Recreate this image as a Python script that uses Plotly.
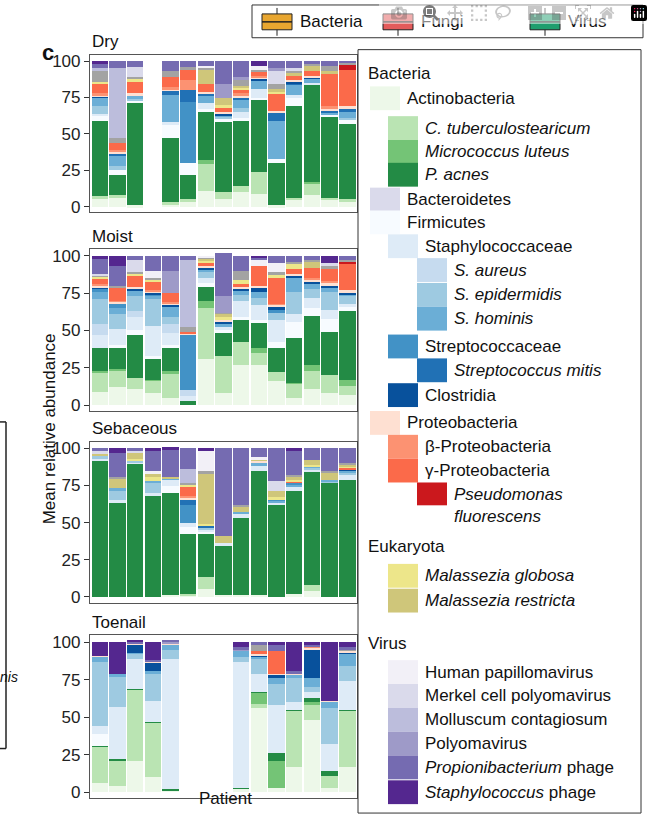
import plotly.graph_objects as go

W, H = 653, 825
patients = list(range(1, 16))

taxa = ["act","ctub","mlut","pacnes","bact","firm","staph","saur","sepi","shom","strep","smit","clost",
        "proteo","beta","gamma","pseudo","mglob","mrestr","grey","hpv","merkel","mollus","polyoma","propph","staphph"]
colors = {"act":"#edf8e9","ctub":"#bae4b3","mlut":"#74c476","pacnes":"#238b45","bact":"#dadaeb","firm":"#f7fbff",
          "staph":"#deebf7","saur":"#c6dbef","sepi":"#9ecae1","shom":"#6baed6","strep":"#4292c6","smit":"#2171b5",
          "clost":"#08519c","proteo":"#fee0d2","beta":"#fc9272","gamma":"#fb6a4a","pseudo":"#cb181d",
          "mglob":"#ede68a","mrestr":"#cfc67a","grey":"#a3a3a3","hpv":"#f2f0f7","merkel":"#dadaeb",
          "mollus":"#bcbddc","polyoma":"#9e9ac8","propph":"#756bb1","staphph":"#54278f"}

dry = [
 dict(act=6,ctub=1,pacnes=52,firm=3,staph=2,sepi=5,shom=6,clost=1,proteo=1,gamma=7,beta=1,mglob=1,grey=7,mollus=2,propph=3,staphph=2),
 dict(act=6,ctub=2,pacnes=14,firm=3,sepi=3,shom=7,smit=2,proteo=1,gamma=5,beta=1,grey=3,mollus=48,propph=5),
 dict(act=1,pacnes=70,firm=2,sepi=1,shom=3,proteo=1,gamma=8,mglob=2,grey=1,merkel=7,propph=4),
 None,
 dict(act=2,ctub=1,pacnes=44,firm=9,staph=2,shom=19,smit=3,proteo=1,gamma=7,beta=1,grey=4,propph=7),
 dict(act=4,ctub=1,pacnes=17,firm=8,strep=42,smit=8,beta=7,gamma=7,grey=2,propph=4),
 dict(act=11,ctub=18,mlut=3,pacnes=33,firm=2,staph=4,shom=5,smit=2,proteo=1,gamma=5,mrestr=10,grey=2,propph=3,hpv=1),
 dict(act=5,ctub=5,pacnes=48,firm=2,sepi=2,shom=1,clost=1,proteo=1,gamma=3,mglob=2,mrestr=5,polyoma=9,propph=16),
 dict(act=10,ctub=4,pacnes=45,firm=2,staph=4,sepi=3,shom=6,smit=1,proteo=1,gamma=3,beta=2,mglob=1,mrestr=1,grey=4,polyoma=2,propph=11),
 dict(act=9,ctub=15,pacnes=49,firm=2,staph=6,shom=6,clost=1,proteo=1,gamma=3,beta=1,grey=1,hpv=3,staphph=3),
 dict(act=1,pacnes=29,firm=3,shom=26,smit=6,proteo=1,gamma=12,mglob=1,mrestr=2,grey=3,merkel=10,polyoma=1,propph=5),
 dict(act=5,ctub=1,pacnes=63,firm=6,staph=2,shom=7,smit=1,clost=1,proteo=1,gamma=3,mrestr=2,grey=2,merkel=1,propph=5),
 dict(act=8,ctub=8,mlut=1,pacnes=67,staph=1,shom=3,clost=1,proteo=1,gamma=3,mrestr=4,grey=1,propph=2),
 dict(act=5,ctub=1,pacnes=56,firm=1,shom=2,smit=1,proteo=2,gamma=22,beta=1,mrestr=2,grey=4,propph=3),
 dict(act=4,ctub=1,pacnes=52,firm=3,sepi=1,shom=5,smit=1,proteo=2,gamma=25,pseudo=4,grey=1,propph=1),
]
moist = [
 dict(act=9,ctub=13,mlut=1,pacnes=15,staph=9,saur=7,sepi=17,shom=5,strep=2,clost=1,proteo=1,gamma=4,beta=1,mglob=1,grey=1,merkel=1,propph=10,staphph=2),
 dict(act=12,ctub=11,mlut=1,pacnes=14,firm=2,staph=11,sepi=10,shom=4,strep=3,proteo=1,gamma=9,beta=1,grey=1,propph=13,staphph=7),
 dict(act=11,ctub=7,pacnes=29,firm=3,staph=9,saur=4,sepi=10,shom=4,clost=1,proteo=1,gamma=8,mglob=1,grey=1,merkel=8,propph=3),
 dict(act=8,ctub=8,mlut=1,pacnes=14,firm=2,staph=20,sepi=18,shom=2,strep=1,clost=1,proteo=1,gamma=6,beta=1,mglob=1,grey=1,hpv=5,propph=10),
 dict(act=5,ctub=16,mlut=2,pacnes=15,firm=2,staph=8,saur=6,sepi=5,shom=7,clost=1,proteo=1,gamma=6,beta=1,polyoma=15,propph=10),
 dict(pacnes=3,staph=3,saur=4,strep=37,proteo=1,gamma=1,grey=3,mollus=45,propph=3),
 dict(act=31,ctub=34,mlut=5,pacnes=9,firm=3,staph=3,sepi=4,shom=2,clost=1,proteo=1,gamma=2,mglob=2,mrestr=1,grey=1,hpv=1),
 dict(act=8,ctub=25,pacnes=15,firm=2,staph=2,shom=2,clost=2,proteo=1,mglob=2,mrestr=2,grey=1,polyoma=11,propph=29),
 dict(act=27,ctub=15,pacnes=15,firm=2,staph=11,sepi=4,shom=3,clost=1,proteo=1,gamma=2,mglob=3,grey=6,propph=10),
 dict(act=27,ctub=8,mlut=3,pacnes=17,firm=2,staph=10,sepi=5,shom=4,clost=3,proteo=1,gamma=13,hpv=4,propph=2,staphph=1),
 dict(act=16,ctub=6,pacnes=16,firm=4,staph=15,sepi=5,strep=2,clost=2,proteo=1,gamma=17,beta=1,mglob=2,grey=2,hpv=6,propph=5),
 dict(act=5,ctub=9,mlut=1,pacnes=30,firm=11,staph=5,sepi=15,shom=9,clost=2,proteo=1,gamma=3,mglob=4,grey=1,propph=4),
 dict(act=11,ctub=12,mlut=4,pacnes=33,firm=5,staph=7,sepi=6,shom=3,clost=2,proteo=1,gamma=7,beta=1,mrestr=4,grey=1,propph=3),
 dict(act=8,ctub=12,pacnes=29,firm=9,staph=6,sepi=12,shom=3,clost=1,proteo=2,gamma=8,beta=1,grey=2,merkel=2,staphph=5),
 dict(act=7,ctub=6,mlut=4,pacnes=46,firm=3,staph=2,sepi=5,shom=1,clost=1,proteo=2,gamma=18,pseudo=1,grey=1,propph=3),
]
sebaceous = [
 dict(pacnes=92,staph=1,sepi=2,mrestr=2,merkel=1,propph=2),
 dict(pacnes=63,staph=2,sepi=7,shom=1,mrestr=7,grey=1,propph=16,staphph=3),
 dict(pacnes=90,staph=1,sepi=1,mglob=1,mrestr=4,merkel=2,propph=1),
 dict(pacnes=68,staph=2,sepi=7,shom=1,mrestr=2,mglob=3,hpv=2,propph=14,staphph=1),
 dict(act=1,pacnes=69,firm=5,staph=4,shom=1,mrestr=1,propph=18,staphph=2),
 dict(act=1,ctub=1,pacnes=40,firm=5,staph=3,strep=12,smit=4,proteo=1,gamma=6,beta=1,mglob=2,grey=1,mollus=9,propph=14),
 dict(act=5,ctub=8,pacnes=29,firm=2,staph=1,sepi=2,smit=1,mglob=1,mrestr=34,grey=2,hpv=14,staphph=1),
 dict(act=1,pacnes=34,staph=1,mrestr=5,propph=59),
 dict(act=1,pacnes=52,staph=3,shom=1,mrestr=4,grey=1,propph=38),
 dict(act=1,pacnes=84,staph=3,shom=3,proteo=1,mrestr=1,hpv=1,propph=6),
 dict(pacnes=62,staph=2,shom=1,strep=1,mglob=1,mrestr=4,merkel=7,propph=22),
 dict(act=2,pacnes=69,staph=3,shom=2,strep=1,gamma=1,mglob=1,mrestr=2,grey=1,propph=16,staphph=2),
 dict(act=4,ctub=4,pacnes=76,staph=2,sepi=1,shom=1,mglob=1,mrestr=3,propph=8),
 dict(pacnes=77,sepi=1,shom=1,mrestr=5,grey=1,propph=15),
 dict(pacnes=79,staph=3,sepi=2,shom=1,clost=1,gamma=1,mglob=1,mrestr=1,grey=1,propph=10),
]
toenail = [
 dict(act=6,ctub=24,pacnes=1,firm=8,staph=5,sepi=43,shom=3,proteo=1,staphph=9),
 dict(act=4,ctub=17,pacnes=1,staph=35,sepi=20,shom=2,staphph=21),
 dict(act=21,ctub=47,pacnes=1,staph=20,sepi=3,shom=1,clost=5,proteo=1,propph=1,staphph=1),
 dict(act=10,ctub=36,pacnes=1,staph=14,sepi=18,shom=2,clost=5,proteo=1,propph=1,staphph=12),
 dict(act=1,pacnes=1,staph=87,sepi=6,shom=3,proteo=1,polyoma=1,propph=1),
 None, None, None,
 dict(act=2,pacnes=1,staph=84,sepi=3,shom=4,polyoma=1,propph=2,staphph=3),
 dict(act=56,ctub=3,mlut=7,pacnes=1,staph=12,sepi=10,shom=1,clost=1,proteo=1,gamma=2,grey=4,propph=2),
 dict(act=3,mlut=18,pacnes=5,staph=32,sepi=14,shom=4,clost=2,proteo=1,gamma=15,propph=4,staphph=2),
 dict(act=17,ctub=37,pacnes=1,staph=5,sepi=16,shom=2,proteo=1,propph=2,staphph=19),
 dict(act=48,ctub=10,mlut=2,pacnes=3,staph=4,sepi=3,shom=6,clost=19,proteo=1,beta=1,propph=1,staphph=2),
 dict(act=3,ctub=8,pacnes=3,staph=18,sepi=24,shom=4,proteo=1,staphph=39),
 dict(act=17,ctub=37,pacnes=1,staph=19,sepi=10,shom=8,clost=1,proteo=1,grey=1,propph=2,staphph=3),
]

panels = [("Dry", dry, 53, 212), ("Moist", moist, 249, 412), ("Sebaceous", sebaceous, 443, 605), ("Toenail", toenail, 638, 802)]
X0, X1 = 90, 357
FONT = "Liberation Sans, Arial, sans-serif"

fig = go.Figure()
annots, shapes = [], []
for i, (name, bars, top, bot) in enumerate(panels):
    ax = "" if i == 0 else str(i + 1)
    for t in taxa:
        vals = [(b.get(t, 0) if b else 0) for b in bars]
        if not any(vals):
            continue
        fig.add_trace(go.Bar(x=patients, y=vals, marker=dict(color=colors[t], line=dict(width=0)),
                             xaxis="x" + ax, yaxis="y" + ax, showlegend=False))
    fig.layout["xaxis" + ax] = dict(domain=[X0 / W, X1 / W], anchor="y" + ax, range=[0.45, 15.55],
                                     showticklabels=False, ticks="", showgrid=False, zeroline=False,
                                     showline=True, mirror=True, linecolor="#555", linewidth=1.2)
    fig.layout["yaxis" + ax] = dict(domain=[1 - bot / H, 1 - top / H], anchor="x" + ax, range=[-4, 104.5],
                                     tickvals=[0, 25, 50, 75, 100], ticks="outside", ticklen=5, tickcolor="#333",
                                     showgrid=False, zeroline=False, showline=True, mirror=True,
                                     linecolor="#555", linewidth=1.2, tickfont=dict(size=17, color="#222"))
    annots.append(dict(x=X0 / W, y=1 - (top - 13) / H, xref="paper", yref="paper", text=name, showarrow=False,
                       xanchor="left", yanchor="middle", font=dict(size=17)))

annots += [
    dict(x=40 / W, y=1 - 36 / H, text="<b>c</b>", font=dict(size=22)),
    dict(x=38 / W, y=1 - 430 / H, text="Mean relative abundance", textangle=-90, font=dict(size=17)),
    dict(x=225 / W, y=1 - 814 / H, text="Patient", font=dict(size=17)),
    dict(x=-2 / W, y=1 - 690 / H, text="<i>nis</i>", xanchor="left", font=dict(size=14)),
]
shapes += [
    dict(type="line", xref="paper", yref="paper", x0=6 / W, x1=6 / W, y0=1 - 423 / H, y1=1 - 752 / H, line=dict(color="#222", width=1.5)),
    dict(type="line", xref="paper", yref="paper", x0=0, x1=6 / W, y0=1 - 423 / H, y1=1 - 423 / H, line=dict(color="#222", width=1.5)),
    dict(type="line", xref="paper", yref="paper", x0=0, x1=6 / W, y0=1 - 752 / H, y1=1 - 752 / H, line=dict(color="#222", width=1.5)),
]

def rect(x0, y0, x1, y1, fill, line="rgba(0,0,0,0)", lw=0):
    shapes.append(dict(type="rect", xref="paper", yref="paper", x0=x0 / W, x1=x1 / W, y0=1 - y1 / H, y1=1 - y0 / H,
                       fillcolor=fill, line=dict(color=line, width=lw)))

def text(x, y, s, size=17):
    annots.append(dict(x=x / W, y=1 - y / H, text=s, xanchor="left", yanchor="middle", align="left", font=dict(size=size)))

# top legend
rect(252, 3, 643, 36, "white", "#333", 1)
for lbl, col, ix in [("Bacteria", "#e8a630", 262), ("Fungi", "#e35b5b", 383), ("Virus", "#1f9e6e", 530)]:
    rect(ix, 12, ix + 30, 28, col, "#222", 1)
    shapes.append(dict(type="line", xref="paper", yref="paper", x0=ix / W, x1=(ix + 30) / W, y0=1 - 20 / H, y1=1 - 20 / H, line=dict(color="#222", width=1.5)))
    shapes.append(dict(type="line", xref="paper", yref="paper", x0=(ix + 15) / W, x1=(ix + 15) / W, y0=1 - 6 / H, y1=1 - 12 / H, line=dict(color="#222", width=1)))
    shapes.append(dict(type="line", xref="paper", yref="paper", x0=(ix + 15) / W, x1=(ix + 15) / W, y0=1 - 28 / H, y1=1 - 34 / H, line=dict(color="#222", width=1)))
    text(ix + 36, 20, lbl)

# side legend
rect(358, 48, 641, 817, "white", "#333", 1)
legend_items = [
    ("act", "Actinobacteria", 370, 97), ("ctub", "<i>C. tuberculostearicum</i>", 388, 127),
    ("mlut", "<i>Micrococcus luteus</i>", 388, 151), ("pacnes", "<i>P. acnes</i>", 388, 174),
    ("bact", "Bacteroidetes", 370, 199), ("firm", "Firmicutes", 370, 222),
    ("staph", "Staphylococcaceae", 388, 246), ("saur", "<i>S. aureus</i>", 417, 270),
    ("sepi", "<i>S. epidermidis</i>", 417, 295), ("shom", "<i>S. hominis</i>", 417, 319),
    ("strep", "Streptococcaceae", 388, 347), ("smit", "<i>Streptococcus mitis</i>", 417, 371),
    ("clost", "Clostridia", 388, 396), ("proteo", "Proteobacteria", 370, 424),
    ("beta", "β-Proteobacteria", 388, 448), ("gamma", "γ-Proteobacteria", 388, 472),
    ("pseudo", "<i>Pseudomonas</i><br><i>fluorescens</i>", 417, 507),
    ("mglob", "<i>Malassezia globosa</i>", 388, 578), ("mrestr", "<i>Malassezia restricta</i>", 388, 603),
    ("hpv", "Human papillomavirus", 388, 675), ("merkel", "Merkel cell polyomavirus", 388, 699),
    ("mollus", "Molluscum contagiosum", 388, 723), ("polyoma", "Polyomavirus", 388, 747),
    ("propph", "<i>Propionibacterium</i> phage", 388, 771), ("staphph", "<i>Staphylococcus</i> phage", 388, 796),
]
for key, lbl, sx, cy in legend_items:
    if key == "pseudo":
        rect(sx, 484, sx + 30, 507, colors[key])
    else:
        rect(sx, cy - 12, sx + 30, cy + 12, colors[key])
    text(sx + 35, cy, lbl)
text(366, 72, "Bacteria"); text(366, 548, "Eukaryota"); text(366, 646, "Virus")

for a in annots:
    a.setdefault("xref", "paper"); a.setdefault("yref", "paper"); a.setdefault("showarrow", False)

fig.update_layout(width=W, height=H, margin=dict(l=0, r=0, t=0, b=0), barmode="stack", bargap=0.07,
                  plot_bgcolor="white", paper_bgcolor="white", font=dict(family=FONT, size=17, color="#111"),
                  annotations=annots, shapes=shapes)
fig.write_html("out.html", post_script="document.body.style.margin='0';document.body.style.overflow='hidden';")
